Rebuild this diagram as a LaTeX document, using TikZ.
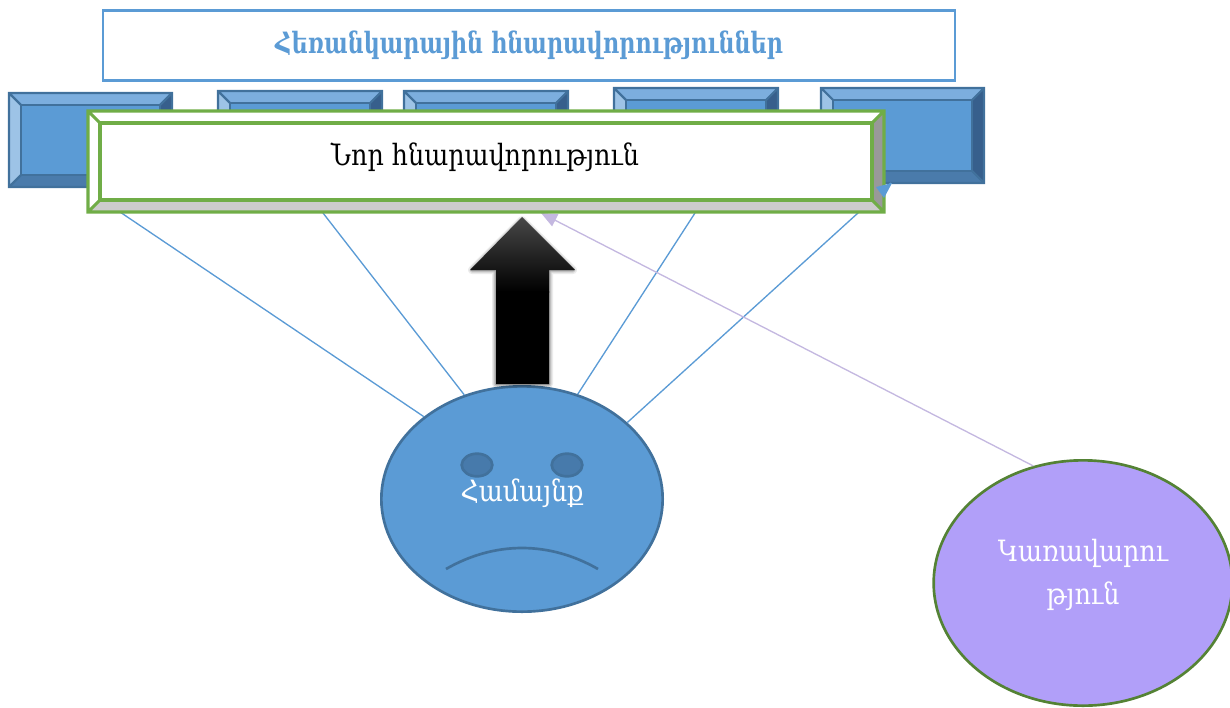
\documentclass[tikz,border=0pt]{standalone}
\usepackage{fontspec}
\setmainfont{DejaVu Serif}
\newfontfamily\armreg[FakeStretch=0.865]{DejaVu Serif}
\newfontfamily\armbold[FakeStretch=0.76]{DejaVu Serif Bold}
\usetikzlibrary{arrows.meta,shapes.geometric}
\definecolor{blueM}{HTML}{5B9BD5}
\definecolor{blueL}{HTML}{41719C}
\definecolor{blueT}{HTML}{7CAEDE}
\definecolor{blueLt}{HTML}{9DC3E6}
\definecolor{blueR}{HTML}{375F8C}
\definecolor{blueB}{HTML}{4A7BAB}
\definecolor{greenL}{HTML}{70AD47}
\definecolor{purpM}{HTML}{B19FF9}
\definecolor{purpL}{HTML}{C4B8E0}
\definecolor{greenD}{HTML}{548235}
\definecolor{eyeC}{HTML}{477AAB}
\tikzset{
  x=0.75pt,y=-0.75pt,
  link/.style={draw=blueM,line width=1pt},
  plink/.style={draw=purpL,line width=1pt,-{Triangle[length=12pt,width=10pt]}},
  face/.style={ellipse,draw=blueL,fill=blueM,line width=2pt,inner sep=0pt,text=white},
  eye/.style={ellipse,draw=blueL,fill=eyeC,line width=2pt,inner sep=0pt,minimum width=23pt,minimum height=17pt},
}
\def\blw{1.6pt}
% #1 name, #2-#5 x0 y0 x1 y1, #6 bevel, #7 line colour, #8 top, #9 left, #10 right, #11 bottom, #12 centre
\newcommand{\bevelbox}[9]{%
  \def\bxa{#2}\def\bya{#3}\def\bxb{#4}\def\byb{#5}\def\bbv{#6}\def\bln{#7}\def\btp{#8}\def\blf{#9}%
  \bevelrest{#1}}
\newcommand{\bevelrest}[5]{%
  \pgfmathsetmacro{\cxa}{\bxa+\bbv}\pgfmathsetmacro{\cya}{\bya+\bbv}%
  \pgfmathsetmacro{\cxb}{\bxb-\bbv}\pgfmathsetmacro{\cyb}{\byb-\bbv}%
  \fill[\btp] (\bxa,\bya)--(\bxb,\bya)--(\cxb,\cya)--(\cxa,\cya)--cycle;
  \fill[\blf] (\bxa,\bya)--(\cxa,\cya)--(\cxa,\cyb)--(\bxa,\byb)--cycle;
  \fill[#2] (\bxb,\bya)--(\cxb,\cya)--(\cxb,\cyb)--(\bxb,\byb)--cycle;
  \fill[#3] (\bxa,\byb)--(\bxb,\byb)--(\cxb,\cyb)--(\cxa,\cyb)--cycle;
  \draw[\bln,line width=\blw,fill=#4] (\cxa,\cya) rectangle (\cxb,\cyb);
  \draw[\bln,line width=\blw] (\bxa,\bya) rectangle (\bxb,\byb)
    (\bxa,\bya)--(\cxa,\cya) (\bxb,\bya)--(\cxb,\cya) (\bxb,\byb)--(\cxb,\cyb) (\bxa,\byb)--(\cxa,\cyb);
  \coordinate (#1) at ({(\bxa+\bxb)/2},{(\bya+\byb)/2});
  #5}
\begin{document}
\begin{tikzpicture}
\useasboundingbox (0,0) rectangle (1230,707);
% title
\node[draw=blueM,line width=2.2pt,fill=white,minimum width=639pt,minimum height=53pt,inner sep=0pt,
  text=blueM,font=\armbold\fontsize{22}{26}\selectfont] (title) at (529,45.5) {Հեռանկարային հնարավորություններ};
% bevel blocks
\bevelbox{b1}{9}{93}{172}{187}{12}{blueL}{blueT}{blueLt}{blueR}{blueB}{blueM}{}
\bevelbox{b2}{218}{91}{382}{187}{12}{blueL}{blueT}{blueLt}{blueR}{blueB}{blueM}{}
\bevelbox{b3}{404}{91}{568}{187}{12}{blueL}{blueT}{blueLt}{blueR}{blueB}{blueM}{}
\bevelbox{b4}{614}{88}{778}{183}{12}{blueL}{blueT}{blueLt}{blueR}{blueB}{blueM}{}
\bevelbox{b5}{821}{88}{984}{183}{12}{blueL}{blueT}{blueLt}{blueR}{blueB}{blueM}{}
% ellipses
\node[face,minimum width=211pt,minimum height=169pt] (smile) at (522,499) {};
\node[ellipse,draw=greenD,fill=purpM,line width=2pt,inner sep=0pt,minimum width=224pt,minimum height=184pt] (mgmt) at (1083,583) {};
% connectors
\coordinate (t1) at (120,212);
\coordinate (t2) at (323,213);
\coordinate (t3) at (695,213);
\coordinate (t4) at (891,183);
\coordinate (t5) at (541,213);
\draw[link] (smile.140.6)--(t1);
\draw[link] (smile.119.7)--(t2);
\draw[link] (smile.62.4)--(t3);
\draw[link] (smile.36.6)--(t4);
\draw[plink] (mgmt.113.5)--(t5);
% new-opportunity box
\def\blw{2.3pt}
\bevelbox{nb}{88}{111}{884}{212}{12}{greenL}{white}{white}{black!40}{black!20}{white}{}
\node[font=\armreg\fontsize{22}{26}\selectfont,text=black] (nbt) at (485,157) {Նոր հնարավորություն};
\fill[blueM] (892,183)--(876,187)--(884,198)--cycle;
% big arrow
\foreach \w/\o in {6/0.08,4/0.12,2/0.2}
  \draw[black,opacity=\o,line width=\w pt,line join=round] (522,220)--(573,270)--(549,270)--(549,384)--(496,384)--(496,270)--(472,270)--cycle;
\begin{scope}
\clip (522,217)--(575,270)--(549,270)--(549,384)--(496,384)--(496,270)--(470,270)--cycle;
\shade[top color=black!72,bottom color=black] (470,217) rectangle (575,292);
\fill[black] (470,291) rectangle (575,385);
\end{scope}
% face
\node[eye] (e1) at (477,465) {};
\node[eye] (e2) at (567,465) {};
\draw[blueL,line width=2pt] (446,569) .. controls (495,541) and (549,541) .. (598,569);
\node[text=white,font=\armreg\fontsize{22}{26}\selectfont] (comm) at (522,493) {Համայնք};
\node[text=white,font=\armreg\fontsize{22}{32}\selectfont,align=center] (mtxt) at (1083,575) {Կառավարու\\թյուն};
\end{tikzpicture}
\end{document}
